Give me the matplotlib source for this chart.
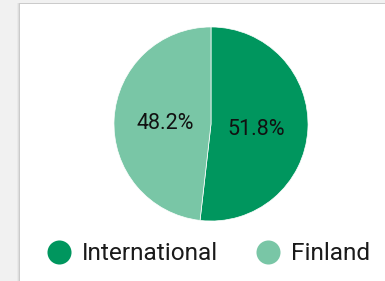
import matplotlib
matplotlib.use("Agg")
import matplotlib.pyplot as plt
from matplotlib.patches import Rectangle

categories = ["International", "Finland"]
values = [51.8, 48.2]
colors = ["#00965e", "#79c6a6"]

W, H = 385, 281
fig = plt.figure(figsize=(W / 100, H / 100), dpi=100)
fig.patch.set_facecolor("#f1f1f1")

# card with soft left shadow
for i, a in enumerate([0.03, 0.05, 0.08]):
    fig.patches.append(Rectangle(((20 - 3 + i) / W, 0), 1, (H - 4 + 1) / H,
                                 transform=fig.transFigure, facecolor="#000000",
                                 alpha=a, edgecolor="none", zorder=-5 + i))
fig.patches.append(Rectangle((20 / W, 0), 1, (H - 4) / H, transform=fig.transFigure,
                             facecolor="white", edgecolor="none", zorder=-1))

font = "Roboto"

# pie
cx, cy, r = 211, 124, 98
ax = fig.add_axes([(cx - r) / W, (H - cy - r) / H, 2 * r / W, 2 * r / H])
wedges, texts, autotexts = ax.pie(values, colors=colors, startangle=90, counterclock=False,
                                  autopct="%.1f%%", pctdistance=0.47, radius=1,
                                  wedgeprops=dict(linewidth=0.5, edgecolor="white"),
                                  textprops=dict(fontsize=15.5, family=font, color="#111111"))
for t in autotexts:
    t.set_va("center_baseline")
ax.set_xlim(-1.01, 1.01)
ax.set_ylim(-1.01, 1.01)
ax.set_aspect("equal")
ax.axis("off")

# legend
lax = fig.add_axes([0, 0, 1, 1])
lax.set_xlim(0, W)
lax.set_ylim(H, 0)
lax.axis("off")
lx = [59, 268]
ly = 252
for x, lab, c in zip(lx, categories, colors):
    lax.scatter([x], [ly], s=24 ** 2 * 0.52, color=c, marker="o", linewidths=0)
    lax.text(x + 23, ly + 1, lab, fontsize=17.6, family=font, color="#1a1a1a",
             va="center", ha="left")

fig.savefig("out.png", dpi=100, facecolor=fig.get_facecolor())
